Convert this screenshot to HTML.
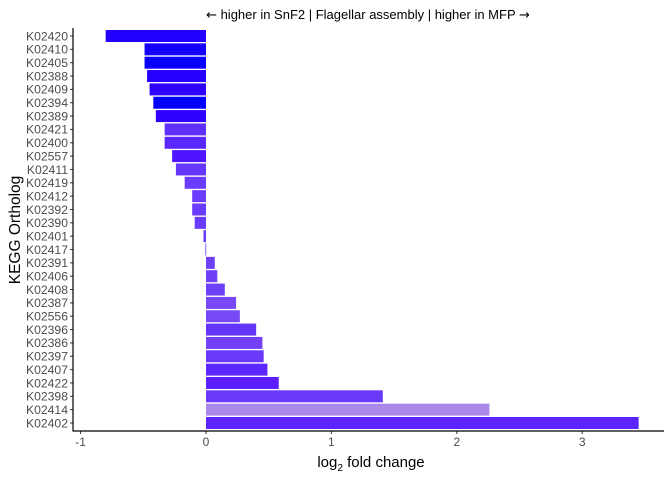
<!DOCTYPE html>
<html><head><meta charset="utf-8"><style>
body{margin:0;background:#fff;width:672px;height:480px;overflow:hidden}
svg text{font-family:"Liberation Sans",sans-serif}
</style></head><body>
<svg id="chart" width="672" height="480" xmlns="http://www.w3.org/2000/svg"></svg>
<script>
const categories=["K02420","K02410","K02405","K02388","K02409","K02394","K02389","K02421","K02400","K02557","K02411","K02419","K02412","K02392","K02390","K02401","K02417","K02391","K02406","K02408","K02387","K02556","K02396","K02386","K02397","K02407","K02422","K02398","K02414","K02402"];
const values=[-0.80,-0.49,-0.49,-0.47,-0.45,-0.42,-0.40,-0.33,-0.33,-0.27,-0.24,-0.17,-0.11,-0.11,-0.09,-0.02,-0.005,0.07,0.09,0.15,0.24,0.27,0.40,0.45,0.46,0.49,0.58,1.41,2.26,3.45];
const colors=["#2200ff","#1400ff","#0a00ff","#2600ff","#3000ff","#0000ff","#3000ff","#6030ff","#5a28ff","#5014ff","#6638ff","#6a3cff","#6a3cff","#6a3cff","#6a3cff","#6a3cff","#6a3cff","#6e40f8","#6e40f8","#6e40f8","#7848f4","#7848f4","#6434f8","#7440f4","#6a38f8","#5c28ff","#5c20ff","#6a38f8","#aa88ea","#5c24ff"];
const xTicks=[-1,0,1,2,3];
const S=document.getElementById('chart'),NS="http://www.w3.org/2000/svg";
function el(t,a,p){const e=document.createElementNS(NS,t);for(const k in a)e.setAttribute(k,a[k]);(p||S).appendChild(e);return e;}
const x0=206,ku=125.4;
function X(v){return x0+v*ku;}
const yTop=36,step=13.345;
function Y(i){return yTop+i*step;}
const bh=12;
values.forEach((v,i)=>{
 const r=el('rect',{x:Math.min(X(0),X(v)),y:Y(i)-bh/2,width:Math.max(0.8,Math.abs(X(v)-X(0))),height:bh,fill:colors[i]});
 
 
 const ty=el('line',{x1:70,x2:73,y1:Y(i),y2:Y(i),stroke:'#333','stroke-width':1});
 
 
 const t=el('text',{x:68,y:Y(i)+4.3,'text-anchor':'end','font-size':12.2,fill:'#4d4d4d'});
 t.textContent=categories[i];
 
 
});
xTicks.forEach(v=>{
 const l=el('line',{x1:X(v),x2:X(v),y1:431,y2:434,stroke:'#333'});
 
 
 const t=el('text',{x:X(v),y:446,'text-anchor':'middle','font-size':12,fill:'#4d4d4d'});
 t.textContent=v;
 
 
});
const ya=el('line',{x1:73,x2:73,y1:28,y2:431.5,stroke:'#000','stroke-width':1.2});


const xa=el('line',{x1:72.5,x2:664,y1:431,y2:431,stroke:'#000','stroke-width':1.2});


</script>
<svg style="position:absolute;left:0;top:0" width="672" height="480" xmlns="http://www.w3.org/2000/svg">
<text x="368" y="19" text-anchor="middle" font-size="13" fill="#000"><tspan font-family="DejaVu Sans">←</tspan> higher in SnF2 | Flagellar assembly | higher in MFP <tspan font-family="DejaVu Sans">→</tspan></text>
<text x="371" y="467" text-anchor="middle" font-size="15" fill="#000">log<tspan font-size="10" dy="4">2</tspan><tspan dy="-4"> fold change</tspan></text>
<text transform="translate(20,230) rotate(-90)" text-anchor="middle" font-size="15.5" fill="#000">KEGG Ortholog</text>
</svg>
</body></html>
